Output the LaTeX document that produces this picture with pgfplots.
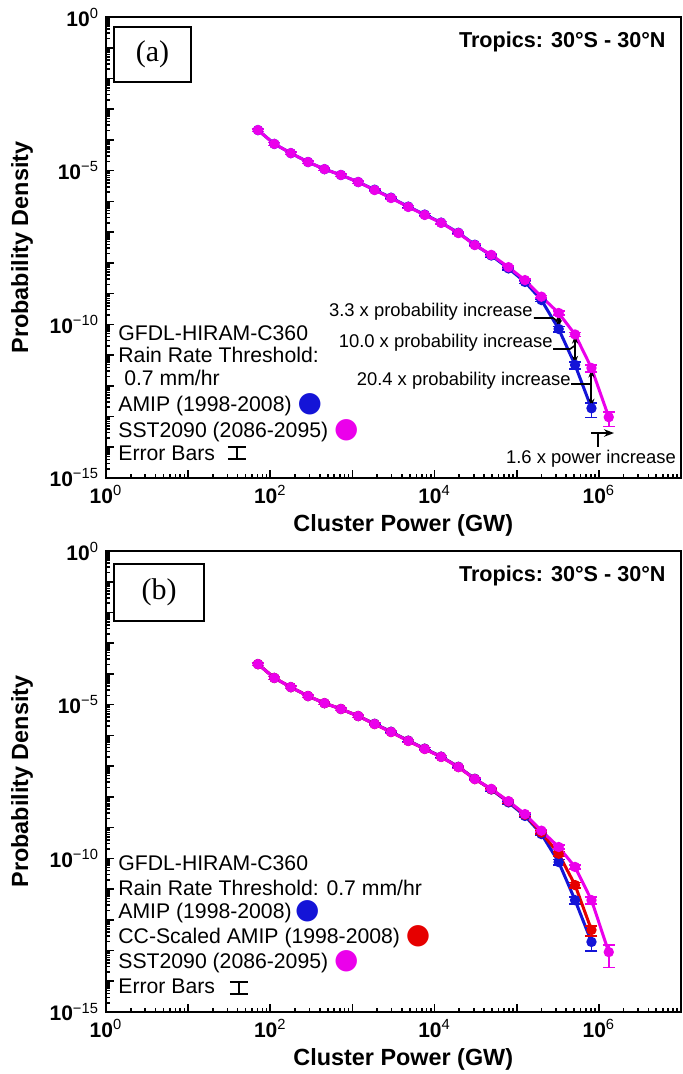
\documentclass[border=0pt]{standalone}
\usepackage{fontspec}
\setmainfont{Liberation Sans}
\newfontfamily\tnr{Liberation Serif}
\newfontfamily\symb{DejaVu Sans}
\usepackage{pgfplots}
\usepackage{pgfplotstable}
\pgfplotsset{compat=1.18}
\usetikzlibrary{arrows.meta}

\definecolor{amip}{RGB}{20,20,215}
\definecolor{sst}{RGB}{235,0,235}
\definecolor{ccs}{RGB}{230,0,0}

% x = cluster power (GW), y = probability density, e = relative error
\pgfplotstableread{
x y e
70.8 2.09e-4 0.1
112 7.41e-5 0.1
178 3.72e-5 0.1
288 1.91e-5 0.1
457 1.12e-5 0.1
724 7.24e-6 0.1
1175 4.27e-6 0.1
1862 2.40e-6 0.1
2951 1.32e-6 0.1
4786 6.76e-7 0.1
7586 3.72e-7 0.1
12020 2.04e-7 0.1
19500 9.55e-8 0.1
30900 3.89e-8 0.1
49000 1.74e-8 0.1
79400 6.61e-9 0.1
126000 2.40e-9 0.1
200000 6.17e-10 0.1
324000 7.08e-11 0.2
513000 4.79e-12 0.25
813000 1.86e-13 0.5
}\amipA
\pgfplotstableread{
x y e
70.8 2.09e-4 0.1
112 7.41e-5 0.1
178 3.72e-5 0.1
288 1.91e-5 0.1
457 1.12e-5 0.1
724 7.24e-6 0.1
1175 4.27e-6 0.1
1862 2.34e-6 0.1
2951 1.29e-6 0.1
4786 6.61e-7 0.1
7586 3.63e-7 0.1
12020 2.00e-7 0.1
19500 9.33e-8 0.1
30900 3.80e-8 0.1
49000 1.82e-8 0.1
79400 7.24e-9 0.1
126000 2.75e-9 0.1
200000 7.94e-10 0.1
324000 2.34e-10 0.15
513000 4.68e-11 0.15
813000 3.80e-12 0.25
1320000 9.55e-14 0.5
}\sstA
\pgfplotstableread{
x y e
70.8 2.09e-4 0.1
112 7.41e-5 0.1
178 3.72e-5 0.1
288 1.91e-5 0.1
457 1.12e-5 0.1
724 7.24e-6 0.1
1175 4.27e-6 0.1
1862 2.40e-6 0.1
2951 1.32e-6 0.1
4786 6.76e-7 0.1
7586 3.72e-7 0.1
12020 2.04e-7 0.1
19500 9.55e-8 0.1
30900 3.89e-8 0.1
49000 1.74e-8 0.1
79400 6.61e-9 0.1
126000 2.40e-9 0.1
200000 6.17e-10 0.1
324000 7.59e-11 0.2
513000 4.37e-12 0.25
813000 1.91e-13 0.5
}\amipB
\pgfplotstableread{
x y e
70.8 2.09e-4 0.1
112 7.41e-5 0.1
178 3.72e-5 0.1
288 1.91e-5 0.1
457 1.12e-5 0.1
724 7.24e-6 0.1
1175 4.27e-6 0.1
1862 2.34e-6 0.1
2951 1.29e-6 0.1
4786 6.61e-7 0.1
7586 3.63e-7 0.1
12020 2.00e-7 0.1
19500 9.33e-8 0.1
30900 3.80e-8 0.1
49000 1.78e-8 0.1
79400 7.08e-9 0.1
126000 2.63e-9 0.1
200000 6.92e-10 0.1
324000 1.41e-10 0.15
513000 1.35e-11 0.2
813000 4.68e-13 0.35
}\ccsB
\pgfplotstableread{
x y e
70.8 2.09e-4 0.1
112 7.41e-5 0.1
178 3.72e-5 0.1
288 1.91e-5 0.1
457 1.12e-5 0.1
724 7.24e-6 0.1
1175 4.27e-6 0.1
1862 2.34e-6 0.1
2951 1.29e-6 0.1
4786 6.61e-7 0.1
7586 3.63e-7 0.1
12020 2.00e-7 0.1
19500 9.33e-8 0.1
30900 3.80e-8 0.1
49000 1.82e-8 0.1
79400 7.24e-9 0.1
126000 2.75e-9 0.1
200000 7.94e-10 0.1
324000 2.34e-10 0.15
513000 5.25e-11 0.15
813000 4.37e-12 0.25
1320000 8.91e-14 0.68
}\sstB

\newcommand{\tl}[1]{\textbf{10}\textsuperscript{#1}}
\newcommand{\leg}{\fontsize{10.6}{12}\selectfont}
\newcommand{\ann}{\fontsize{9.2}{11}\selectfont}
\newcommand{\ldot}[1]{\textcolor{#1}{\symb\fontsize{14}{14}\selectfont ●}}

\pgfplotsset{
  every axis/.append style={
    scale only axis, width=287.5pt, height=230.5pt,
    xmin=1, xmax=1e7, ymin=1e-15, ymax=1,
    xtick={1,10,100,1000,1e4,1e5,1e6,1e7},
    xticklabels={\tl{0},,\tl{2},,\tl{4},,\tl{6},},
    minor xtick={2,3,4,5,6,7,8,9,20,30,40,50,60,70,80,90,200,300,400,500,600,700,800,900,
      2e3,3e3,4e3,5e3,6e3,7e3,8e3,9e3,2e4,3e4,4e4,5e4,6e4,7e4,8e4,9e4,
      2e5,3e5,4e5,5e5,6e5,7e5,8e5,9e5,2e6,3e6,4e6,5e6,6e6,7e6,8e6,9e6},
    ytick={1e-15,1e-14,1e-13,1e-12,1e-11,1e-10,1e-9,1e-8,1e-7,1e-6,1e-5,1e-4,1e-3,1e-2,1e-1,1},
    yticklabels={\tl{−15},,,,,\tl{−10},,,,,\tl{−5},,,,,\tl{0}},
    minor ytick={2e-15,3e-15,4e-15,5e-15,6e-15,7e-15,8e-15,9e-15,
      2e-14,3e-14,4e-14,5e-14,6e-14,7e-14,8e-14,9e-14,
      2e-13,3e-13,4e-13,5e-13,6e-13,7e-13,8e-13,9e-13,
      2e-12,3e-12,4e-12,5e-12,6e-12,7e-12,8e-12,9e-12,
      2e-11,3e-11,4e-11,5e-11,6e-11,7e-11,8e-11,9e-11,
      2e-10,3e-10,4e-10,5e-10,6e-10,7e-10,8e-10,9e-10,
      2e-9,3e-9,4e-9,5e-9,6e-9,7e-9,8e-9,9e-9,
      2e-8,3e-8,4e-8,5e-8,6e-8,7e-8,8e-8,9e-8,
      2e-7,3e-7,4e-7,5e-7,6e-7,7e-7,8e-7,9e-7,
      2e-6,3e-6,4e-6,5e-6,6e-6,7e-6,8e-6,9e-6,
      2e-5,3e-5,4e-5,5e-5,6e-5,7e-5,8e-5,9e-5,
      2e-4,3e-4,4e-4,5e-4,6e-4,7e-4,8e-4,9e-4,
      2e-3,3e-3,4e-3,5e-3,6e-3,7e-3,8e-3,9e-3,
      0.02,0.03,0.04,0.05,0.06,0.07,0.08,0.09,
      0.2,0.3,0.4,0.5,0.6,0.7,0.8,0.9},
    tick pos=left, tick align=inside,
    major tick length=4pt, minor tick length=2.2pt,
    every tick/.style={black, line width=0.8pt},
    axis line style={line width=1pt},
    tick label style={font=\fontsize{10.5}{12}\selectfont},
    label style={font=\bfseries\fontsize{11.7}{14}\selectfont},
    xlabel style={at={(axis description cs:0.517,-0.102)}, anchor=center},
    ylabel style={at={(axis description cs:-0.146,0.5)}, anchor=center},
    xlabel={Cluster Power (GW)}, ylabel={Probability Density},
    clip=false,
  },
}
\tikzset{curve/.style={line width=1.5pt, mark=*, mark size=1.8pt}}
% the error-bar glyph of the key
\newcommand{\ebkey}[1]{%
  \coordinate (eb) at (#1);
  \draw[line width=0.8pt] ([xshift=-4.5pt,yshift=3pt]eb) -- ([xshift=4.5pt,yshift=3pt]eb)
    ([yshift=3pt]eb) -- ([yshift=-3pt]eb)
    ([xshift=-4.5pt,yshift=-3pt]eb) -- ([xshift=4.5pt,yshift=-3pt]eb);}

\begin{document}
\begin{tikzpicture}
\useasboundingbox (-53pt,8.5pt) rectangle (288.5pt,-528.5pt);

% ---------- (a) ----------
\begin{loglogaxis}[at={(0,0)}, anchor=north west]
  \addplot[amip, curve, error bars/.cd, y dir=both, y explicit relative, error bar style={line width=0.8pt}, error mark options={rotate=90, mark size=3pt, line width=0.8pt}] table[x=x, y=y, y error=e] {\amipA};
  \addplot[sst, curve, error bars/.cd, y dir=both, y explicit relative, error bar style={line width=0.8pt}, error mark options={rotate=90, mark size=3pt, line width=0.8pt}] table[x=x, y=y, y error=e] {\sstA};

  \draw[<->, >={Stealth[length=4pt]}, line width=1pt] (axis cs:3.24e5,7.6e-11) -- (axis cs:3.24e5,2.2e-10);
  \draw[<->, >={Stealth[length=4pt]}, line width=1pt] (axis cs:5.13e5,5.2e-12) -- (axis cs:5.13e5,4.3e-11);
  \draw[<->, >={Stealth[length=4pt]}, line width=1pt] (axis cs:8.13e5,2.1e-13) -- (axis cs:8.13e5,3.4e-12);
  \draw[line width=0.8pt] (rel axis cs:0.7443,0.3470) -- (rel axis cs:0.7774,0.3470) -- (rel axis cs:0.7857,0.3400);
  \draw[line width=0.8pt] (rel axis cs:0.7774,0.2798) -- (rel axis cs:0.8070,0.2798) -- (rel axis cs:0.8143,0.2863);
  \draw[line width=0.8pt] (rel axis cs:0.8087,0.2039) -- (rel axis cs:0.8428,0.2039);
  \draw[->, >={Stealth[length=5pt]}, line width=1pt] (rel axis cs:0.8435,0.0976) -- (rel axis cs:0.8835,0.0976);
  \draw[line width=0.8pt] (rel axis cs:0.8557,0.0976) -- (rel axis cs:0.8557,0.0672);

  \node[anchor=base east, font=\ann, inner sep=0] at (rel axis cs:0.7426,0.3499) {3.3 x probability increase};
  \node[anchor=base east, font=\ann, inner sep=0] at (rel axis cs:0.7774,0.2835) {10.0 x probability increase};
  \node[anchor=base east, font=\ann, inner sep=0] at (rel axis cs:0.8087,0.2002) {20.4 x probability increase};
  \node[anchor=base, font=\ann, inner sep=0] at (rel axis cs:0.8435,0.0319) {1.6 x power increase};

  \node[anchor=base east, font=\bfseries\fontsize{10.8}{13}\selectfont, inner sep=0] at (rel axis cs:0.9739,0.9328) {Tropics: 30°S - 30°N};
  \node[draw, line width=0.8pt, minimum width=38.5pt, minimum height=27.5pt, font=\tnr\fontsize{15}{18}\selectfont] at (rel axis cs:0.0809,0.9187) {(a)};

  \node[anchor=base west, font=\leg, inner sep=0] at (rel axis cs:0.0209,0.2993) {GFDL-HIRAM-C360};
  \node[anchor=base west, font=\leg, inner sep=0] at (rel axis cs:0.0209,0.2516) {Rain Rate Threshold:};
  \node[anchor=base west, font=\leg, inner sep=0] at (rel axis cs:0.0209,0.2017) {\ 0.7 mm/hr};
  \node[anchor=base west, font=\leg, inner sep=0] at (rel axis cs:0.0209,0.1438) {AMIP (1998-2008) \ldot{amip}};
  \node[anchor=base west, font=\leg, inner sep=0] at (rel axis cs:0.0209,0.0889) {SST2090 (2086-2095) \ldot{sst}};
  \node[anchor=base west, font=\leg, inner sep=0] at (rel axis cs:0.0209,0.0390) {Error Bars};
  \ebkey{rel axis cs:0.2278,0.0542}
\end{loglogaxis}

% ---------- (b) ----------
\begin{loglogaxis}[at={(0,-267pt)}, anchor=north west]
  \addplot[amip, curve, error bars/.cd, y dir=both, y explicit relative, error bar style={line width=0.8pt}, error mark options={rotate=90, mark size=3pt, line width=0.8pt}] table[x=x, y=y, y error=e] {\amipB};
  \addplot[ccs, curve, error bars/.cd, y dir=both, y explicit relative, error bar style={line width=0.8pt}, error mark options={rotate=90, mark size=3pt, line width=0.8pt}] table[x=x, y=y, y error=e] {\ccsB};
  \addplot[sst, curve, error bars/.cd, y dir=both, y explicit relative, error bar style={line width=0.8pt}, error mark options={rotate=90, mark size=3pt, line width=0.8pt}] table[x=x, y=y, y error=e] {\sstB};

  \node[anchor=base east, font=\bfseries\fontsize{10.8}{13}\selectfont, inner sep=0] at (rel axis cs:0.9739,0.9328) {Tropics: 30°S - 30°N};
  \node[draw, line width=0.8pt, minimum width=45pt, minimum height=28.5pt, font=\tnr\fontsize{15}{18}\selectfont] at (rel axis cs:0.0922,0.910) {(b)\hspace{6pt}};

  \node[anchor=base west, font=\leg, inner sep=0] at (rel axis cs:0.0209,0.3080) {GFDL-HIRAM-C360};
  \node[anchor=base west, font=\leg, inner sep=0] at (rel axis cs:0.0209,0.2538) {Rain Rate Threshold: 0.7 mm/hr};
  \node[anchor=base west, font=\leg, inner sep=0] at (rel axis cs:0.0209,0.2039) {AMIP (1998-2008)\,\ldot{amip}};
  \node[anchor=base west, font=\leg, inner sep=0] at (rel axis cs:0.0209,0.1497) {CC-Scaled AMIP (1998-2008) \ldot{ccs}};
  \node[anchor=base west, font=\leg, inner sep=0] at (rel axis cs:0.0209,0.0954) {SST2090 (2086-2095) \ldot{sst}};
  \node[anchor=base west, font=\leg, inner sep=0] at (rel axis cs:0.0209,0.0412) {Error Bars};
  \ebkey{rel axis cs:0.2313,0.0521}
\end{loglogaxis}
\end{tikzpicture}
\end{document}
